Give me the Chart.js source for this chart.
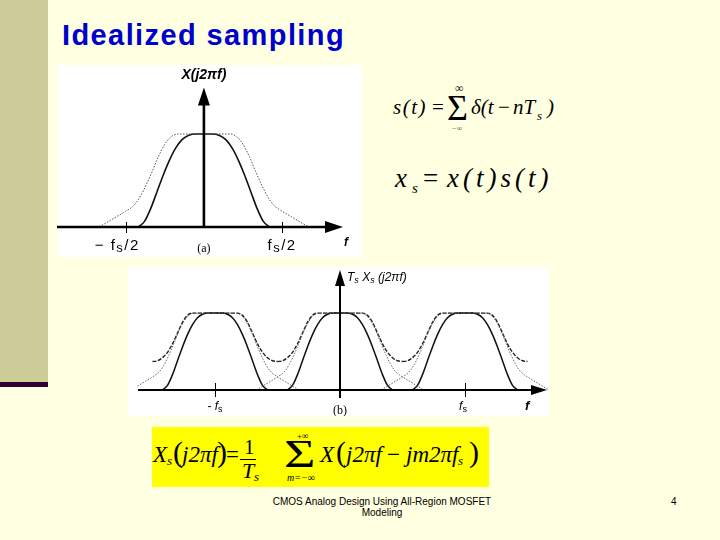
<!DOCTYPE html>
<html lang="en">
<head>
<meta charset="UTF-8">
<title>Idealized sampling</title>
<script src="https://cdn.jsdelivr.net/npm/chart.js@4.4.1/dist/chart.umd.min.js"></script>
<style>
  html, body { margin: 0; padding: 0; }
  body { width: 720px; height: 540px; position: relative; overflow: hidden; background: #FFFFE1; }
  #strip { position: absolute; left: 0; top: 0; width: 48px; height: 382px; background: #CCCC99; }
  #band { position: absolute; left: 0; top: 382px; width: 48px; height: 5px; background: #330033; }
  .t { position: absolute; line-height: 1; white-space: nowrap; color: #000; }
  .serif { font-family: "Liberation Serif", "Times New Roman", serif; transform: translateY(-0.8375em); }
  .sans { font-family: "Liberation Sans", Arial, sans-serif; transform: translateY(-0.8465em); }
  .i { font-style: italic; }
  .wide { transform-origin: left top; transform: translateY(-0.8375em) scaleX(1.35); }
  #title { left: 62px; top: 46px; font-size: 29px; font-weight: bold; letter-spacing: 1.4px; color: #0000CC; }
  canvas { position: absolute; background: #fff; }
  #chartA { left: 57px; top: 65px; }
  #chartB { left: 128px; top: 267px; }
  #ybox { position: absolute; left: 152px; top: 427px; width: 337px; height: 60px; background: #FFFF00; }
  .bar { position: absolute; height: 1px; background: #000; }
</style>
</head>
<body>
<div id="strip"></div>
<div id="band"></div>
<div id="title" class="t sans">Idealized sampling</div>

<canvas id="chartA" width="305" height="192"></canvas>
<canvas id="chartB" width="421" height="149"></canvas>

<!-- s(t) = sum delta(t - nTs) -->
<span class="t serif i" style="left:393px;top:115px;font-size:21px;letter-spacing:1.5px">s(t)</span>
<span class="t serif" style="left:432px;top:115px;font-size:21px">=</span>
<span class="t serif" style="left:447px;top:120px;font-size:36px">Σ</span>
<span class="t serif" style="left:455px;top:92px;font-size:12px">∞</span>
<span class="t serif" style="left:452px;top:132px;font-size:8px;color:#555">−∞</span>
<span class="t serif i" style="left:471px;top:115px;font-size:21px">δ(t</span>
<span class="t serif" style="left:498px;top:115px;font-size:21px">−</span>
<span class="t serif i" style="left:513px;top:115px;font-size:21px">nT</span>
<span class="t serif i" style="left:537px;top:120px;font-size:13px">s</span>
<span class="t serif i" style="left:547px;top:115px;font-size:21px">)</span>

<!-- xs = x(t)s(t) -->
<span class="t serif i" style="left:395px;top:188px;font-size:27px">x</span>
<span class="t serif i" style="left:412px;top:194px;font-size:15px">s</span>
<span class="t serif" style="left:423px;top:188px;font-size:27px">=</span>
<span class="t serif i" style="left:447px;top:188px;font-size:27px;letter-spacing:4px">x(t)s(t)</span>

<!-- yellow box formula -->
<div id="ybox"></div>
<span class="t serif i" style="left:153px;top:462px;font-size:23px">X</span>
<span class="t serif i" style="left:167px;top:465px;font-size:13px">s</span>
<span class="t serif" style="left:173px;top:462px;font-size:30px">(</span>
<span class="t serif i" style="left:182px;top:462px;font-size:23px">j2πf</span>
<span class="t serif" style="left:217px;top:462px;font-size:30px">)</span>
<span class="t serif" style="left:226px;top:462px;font-size:23px">=</span>
<span class="t serif" style="left:244px;top:455px;font-size:21px">1</span>
<div class="bar" style="left:240px;top:459px;width:16px"></div>
<span class="t serif i" style="left:242px;top:478px;font-size:22px">T</span>
<span class="t serif i" style="left:254px;top:481px;font-size:13px">s</span>
<span class="t serif wide" style="left:284px;top:467px;font-size:40px">Σ</span>
<span class="t serif" style="left:297px;top:440px;font-size:9px">+∞</span>
<span class="t serif i" style="left:287px;top:481px;font-size:10px">m=−∞</span>
<span class="t serif i" style="left:320px;top:462px;font-size:23px">X</span>
<span class="t serif" style="left:336px;top:462px;font-size:30px">(</span>
<span class="t serif i" style="left:346px;top:462px;font-size:23px">j2πf</span>
<span class="t serif" style="left:387px;top:462px;font-size:23px">−</span>
<span class="t serif i" style="left:406px;top:462px;font-size:23px">jm2πf</span>
<span class="t serif i" style="left:458px;top:465px;font-size:13px">s</span>
<span class="t serif" style="left:469px;top:462px;font-size:30px">)</span>

<div class="t sans" style="left:262px;width:240px;text-align:center;top:505px;font-size:10px">CMOS Analog Design Using All-Region MOSFET</div>
<div class="t sans" style="left:262px;width:240px;text-align:center;top:516px;font-size:10px">Modeling</div>
<div class="t sans" style="left:671px;top:505px;font-size:10px">4</div>

<script>
// spectrum shapes, x in units of fs, height relative to the flat top
const narrowX = [-0.42, -0.38, -0.34, -0.30, -0.26, -0.22, -0.18, -0.14, -0.10, -0.05, 0, 0.05, 0.10, 0.14, 0.18, 0.22, 0.26, 0.30, 0.34, 0.38, 0.42];
const narrowY = [0, 0.06, 0.20, 0.38, 0.56, 0.72, 0.85, 0.94, 0.985, 1, 1, 1, 0.985, 0.94, 0.85, 0.72, 0.56, 0.38, 0.20, 0.06, 0];

const wideX = [-0.67, -0.62, -0.56, -0.50, -0.45, -0.41, -0.37, -0.33, -0.29, -0.25, -0.21, -0.17, 0, 0.17, 0.21, 0.25, 0.29, 0.33, 0.37, 0.41, 0.45, 0.50, 0.56, 0.62, 0.67];
const wideY = [0, 0.05, 0.11, 0.17, 0.23, 0.32, 0.45, 0.60, 0.76, 0.89, 0.97, 1, 1, 1, 0.97, 0.89, 0.76, 0.60, 0.45, 0.32, 0.23, 0.17, 0.11, 0.05, 0];

// aliased sum, one period around each replica, panel (b)
const sumX = [-0.50, -0.46, -0.42, -0.38, -0.34, -0.30, -0.26, -0.22, -0.18, 0, 0.18, 0.22, 0.26, 0.30, 0.34, 0.38, 0.42, 0.46, 0.50];
const sumY = [0.37, 0.38, 0.42, 0.49, 0.60, 0.74, 0.88, 0.97, 1, 1, 1, 0.97, 0.88, 0.74, 0.60, 0.49, 0.42, 0.38, 0.37];

const replicaCenters = [-1, 0, 1];
const ticksA = [-0.5, 0.5];
const ticksB = [-1, 1];

function pts(xs, ys, c) {
  return xs.map((x, i) => ({ x: x + c, y: ys[i] }));
}

function drawRich(ctx, parts, x, y, align, ls) {
  ctx.letterSpacing = (ls || 0) + 'px';
  let w = 0;
  parts.forEach(p => { ctx.font = p.f; w += ctx.measureText(p.t).width; });
  let cx = align === 'center' ? x - w / 2 : x;
  parts.forEach(p => {
    ctx.font = p.f;
    ctx.fillText(p.t, cx, y + (p.dy || 0));
    cx += ctx.measureText(p.t).width;
  });
  ctx.letterSpacing = '0px';
}

const arrowAxes = {
  id: 'arrowAxes',
  afterDatasetsDraw(chart, args, o) {
    const { ctx, chartArea: a, scales: { x, y } } = chart;
    const x0 = x.getPixelForValue(0), y0 = y.getPixelForValue(0);
    ctx.save();
    ctx.fillStyle = '#000';
    ctx.strokeStyle = '#000';
    ctx.lineWidth = o.lw;
    ctx.beginPath();
    ctx.moveTo(a.left, y0); ctx.lineTo(a.right - o.head, y0);
    ctx.moveTo(x0, y0 + o.below); ctx.lineTo(x0, a.top + o.head);
    ctx.stroke();

    ctx.beginPath();
    ctx.moveTo(a.right, y0);
    ctx.lineTo(a.right - o.head - 1, y0 - o.half);
    ctx.lineTo(a.right - o.head - 1, y0 + o.half);
    ctx.closePath();
    ctx.moveTo(x0, a.top);
    ctx.lineTo(x0 - o.half, a.top + o.head + 1);
    ctx.lineTo(x0 + o.half, a.top + o.head + 1);
    ctx.closePath();
    ctx.fill();

    ctx.lineWidth = 1;
    o.ticks.forEach(v => {
      const p = Math.round(x.getPixelForValue(v)) + 0.5;
      ctx.beginPath();
      ctx.moveTo(p, y0 - o.tickUp); ctx.lineTo(p, y0 + o.tickDown);
      ctx.stroke();
    });

    ctx.textBaseline = 'alphabetic';
    o.labels.forEach(l => {
      const px = (l.at === 'max' ? a.right : x.getPixelForValue(l.v)) + (l.dx || 0);
      drawRich(ctx, l.parts, px, y0 + l.dy, l.align || 'center', l.ls);
    });
    ctx.restore();
  }
};

const SANS = '"Liberation Sans", Arial, sans-serif';
const SERIF = '"Liberation Serif", "Times New Roman", serif';

const baseOptions = (xmin, xmax, ymax, padding, axes) => ({
  responsive: false,
  animation: false,
  layout: { padding: padding },
  elements: { point: { radius: 0 }, line: { cubicInterpolationMode: 'monotone', fill: false } },
  plugins: { legend: { display: false }, tooltip: { enabled: false }, arrowAxes: axes },
  scales: {
    x: { type: 'linear', min: xmin, max: xmax, display: false },
    y: { type: 'linear', min: 0, max: ymax, display: false }
  }
});

// panel (a)
new Chart(document.getElementById('chartA'), {
  type: 'line',
  data: {
    datasets: [
      { data: pts(wideX, wideY, 0), borderColor: '#555', borderWidth: 1, borderDash: [1.5, 1.5] },
      { data: pts(narrowX, narrowY, 0), borderColor: '#111', borderWidth: 1.6 }
    ]
  },
  options: baseOptions(-0.94, 0.89, 1.5, { left: 0, right: 19, top: 22.5, bottom: 30 }, {
    lw: 2.6, head: 17, half: 6, below: 0, tickUp: 5, tickDown: 6, ticks: ticksA,
    labels: [
      { v: 0, dy: -148, parts: [{ t: 'X(j2πf)', f: 'italic bold 14px ' + SANS }] },
      { v: -0.5, dx: -31, dy: 23, align: 'left', ls: 1.5, parts: [
        { t: '− f', f: '15px ' + SANS }, { t: 's', f: '13px ' + SANS, dy: 2 }, { t: '/2', f: '15px ' + SANS }] },
      { v: 0.5, dy: 23, ls: 1.5, parts: [
        { t: 'f', f: '15px ' + SANS }, { t: 's', f: '13px ' + SANS, dy: 2 }, { t: '/2', f: '15px ' + SANS }] },
      { v: 0, dy: 25, parts: [{ t: '(a)', f: '12px ' + SERIF }] },
      { at: 'max', dx: 1, dy: 19, align: 'left', parts: [{ t: 'f', f: 'italic bold 12px ' + SANS }] }
    ]
  }),
  plugins: [arrowAxes]
});

// panel (b)
const dsB = [];
replicaCenters.forEach(c => {
  dsB.push({ data: pts(wideX, wideY, c), borderColor: '#666', borderWidth: 1, borderDash: [1.5, 1.5], clip: false });
  dsB.push({ data: pts(narrowX, narrowY, c), borderColor: '#111', borderWidth: 1.5, clip: false });
  dsB.push({ data: pts(sumX, sumY, c), borderColor: '#222', borderWidth: 1.4, borderDash: [4, 1.5], clip: false });
});

new Chart(document.getElementById('chartB'), {
  type: 'line',
  data: { datasets: dsB },
  options: baseOptions(-1.616, 1.656, 1.56, { left: 10, right: 2, top: 3, bottom: 26 }, {
    lw: 2, head: 15, half: 5, below: 8, tickUp: 7, tickDown: 7, ticks: ticksB,
    labels: [
      { v: 0, dx: 7, dy: -109, align: 'left', parts: [
        { t: 'T', f: 'italic 12px ' + SANS }, { t: 's', f: 'italic 9px ' + SANS, dy: 2 },
        { t: ' X', f: 'italic 12px ' + SANS }, { t: 's', f: 'italic 9px ' + SANS, dy: 2 },
        { t: ' (j2πf)', f: 'italic 12px ' + SANS }] },
      { v: -1, dy: 20, parts: [{ t: '- ', f: '12px ' + SANS }, { t: 'f', f: 'italic 12px ' + SANS }, { t: 's', f: '9px ' + SANS, dy: 2 }] },
      { v: 1, dx: -2, dy: 20, parts: [{ t: 'f', f: 'italic 12px ' + SANS }, { t: 's', f: '9px ' + SANS, dy: 2 }] },
      { v: 0, dy: 24, parts: [{ t: '(b)', f: '12px ' + SERIF }] },
      { at: 'max', dx: -22, dy: 20, align: 'left', parts: [{ t: 'f', f: 'italic bold 13px ' + SANS }] }
    ]
  }),
  plugins: [arrowAxes]
});
</script>
</body>
</html>
